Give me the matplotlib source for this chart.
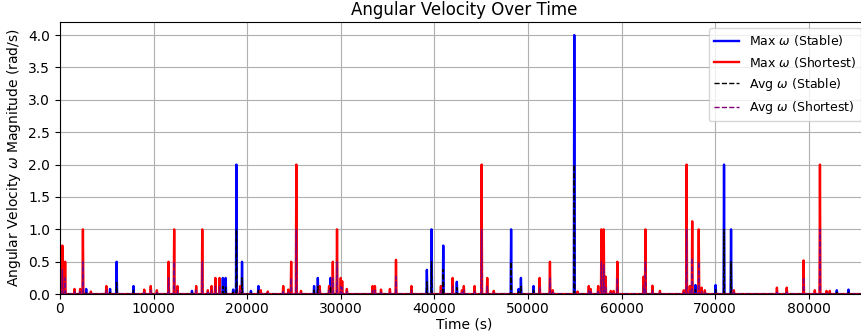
import numpy as np
import matplotlib
matplotlib.use("Agg")
import matplotlib.pyplot as plt

# time axis (s)
t_end = 86300
dt = 50

# spikes of the "Stable" run: time, max |omega|, mean |omega|
stable_t = [2810, 5340, 6050, 7830, 14100, 17410, 17700, 18480, 18830, 19470,
            20400, 21220, 27130, 27560, 28900, 39200, 39700, 40960, 42400, 48210,
            49000, 49240, 50620, 54930, 67900, 70040, 70970, 71700, 82980, 84260]
stable_max = [0.08, 0.08, 0.5, 0.125, 0.05, 0.25, 0.25, 0.07, 2.0, 0.5,
              0.05, 0.125, 0.125, 0.25, 0.25, 0.375, 1.0, 0.75, 0.19, 1.0,
              0.08, 0.25, 0.125, 4.0, 0.14, 0.14, 2.0, 1.0, 0.06, 0.07]
stable_avg = [0.04, 0.03, 0.18, 0.06, 0.02, 0.12, 0.1, 0.03, 1.0, 0.25,
              0.02, 0.06, 0.06, 0.12, 0.12, 0.19, 0.5, 0.38, 0.1, 0.5,
              0.04, 0.12, 0.06, 2.0, 0.07, 0.07, 1.0, 0.5, 0.03, 0.03]

# spikes of the "Shortest" run
short_t = [250, 530, 1570, 2140, 2460, 3310, 4950, 9010, 9690, 10360,
           11610, 12180, 12530, 14530, 15200, 15800, 16200, 16590, 17060, 19230,
           21430, 22200, 23850, 24400, 24700, 25240, 25740, 27770, 28730, 29150,
           29580, 30000, 30150, 30650, 33400, 33650, 34280, 35250, 35890, 37560,
           40690, 41950, 42930, 43150, 44320, 45030, 45670, 46350, 51260, 52330,
           52650, 55320, 56500, 56720, 57520, 57850, 58100, 58300, 58850, 59170,
           59560, 62340, 62550, 63280, 64080, 66640, 66930, 67280, 67540, 68250,
           68560, 68880, 71980, 76580, 77650, 79460, 80640, 81180, 81920, 82230]
short_max = [0.75, 0.5, 0.08, 0.08, 1.0, 0.04, 0.125, 0.07, 0.125, 0.06,
             0.5, 1.0, 0.125, 0.125, 1.0, 0.06, 0.125, 0.25, 0.25, 0.125,
             0.06, 0.04, 0.125, 0.07, 0.5, 2.0, 0.05, 0.125, 0.125, 0.5,
             1.0, 0.25, 0.2, 0.08, 0.125, 0.125, 0.07, 0.08, 0.53, 0.125,
             0.125, 0.25, 0.06, 0.125, 0.125, 2.0, 0.25, 0.05, 0.25, 0.5,
             0.06, 0.04, 0.125, 0.08, 0.125, 1.0, 1.0, 0.27, 0.05, 0.05,
             0.5, 0.27, 1.0, 0.13, 0.05, 0.06, 2.0, 0.125, 1.125, 1.0,
             0.1, 0.06, 0.06, 0.1, 0.1, 0.52, 0.06, 2.0, 0.05, 0.05]
short_avg = [0.38, 0.25, 0.04, 0.04, 0.5, 0.02, 0.06, 0.03, 0.06, 0.03,
             0.25, 0.5, 0.06, 0.06, 0.5, 0.03, 0.06, 0.12, 0.12, 0.06,
             0.03, 0.02, 0.06, 0.03, 0.25, 1.0, 0.02, 0.06, 0.06, 0.25,
             0.5, 0.12, 0.1, 0.04, 0.06, 0.06, 0.03, 0.04, 0.27, 0.06,
             0.06, 0.12, 0.03, 0.06, 0.06, 1.0, 0.12, 0.02, 0.12, 0.25,
             0.03, 0.02, 0.06, 0.04, 0.06, 0.5, 0.45, 0.12, 0.02, 0.02,
             0.25, 0.12, 0.5, 0.06, 0.02, 0.03, 1.0, 0.06, 0.56, 0.5,
             0.05, 0.03, 0.03, 0.05, 0.05, 0.26, 0.03, 1.0, 0.02, 0.02]


def series(times, vals):
    time = np.arange(0, t_end + dt, dt)
    out = np.zeros_like(time, dtype=float)
    for ti, v in zip(times, vals):
        out[int(round(ti / dt))] = v
    return time, out


time, s_max = series(stable_t, stable_max)
_, s_avg = series(stable_t, stable_avg)
_, r_max = series(short_t, short_max)
_, r_avg = series(short_t, short_avg)

fig = plt.figure(figsize=(8.62, 3.35), dpi=100)
# right edge of the axes lies just past the figure edge, as in the original crop
ax = fig.add_axes([0.0696, 0.122, 0.937, 0.812])

ax.plot(time, s_max, color='blue', lw=1.7, label=r'Max $\omega$ (Stable)')
ax.plot(time, r_max, color='red', lw=1.7, label=r'Max $\omega$ (Shortest)')
ax.plot(time, s_avg, color='black', ls='--', lw=1.0, label=r'Avg $\omega$ (Stable)')
ax.plot(time, r_avg, color='purple', ls='--', lw=1.0, label=r'Avg $\omega$ (Shortest)')

ax.set_xlim(0, t_end)
ax.set_ylim(0, 4.2)
ax.set_title('Angular Velocity Over Time', pad=5)
ax.set_xlabel('Time (s)', labelpad=1)
ax.set_ylabel(r'Angular Velocity $\omega$ Magnitude (rad/s)')
ax.tick_params(axis='x', pad=2.5)
ax.grid(True)
ax.legend(loc='upper right', fontsize=9)

fig.savefig('out.png', dpi=100)
